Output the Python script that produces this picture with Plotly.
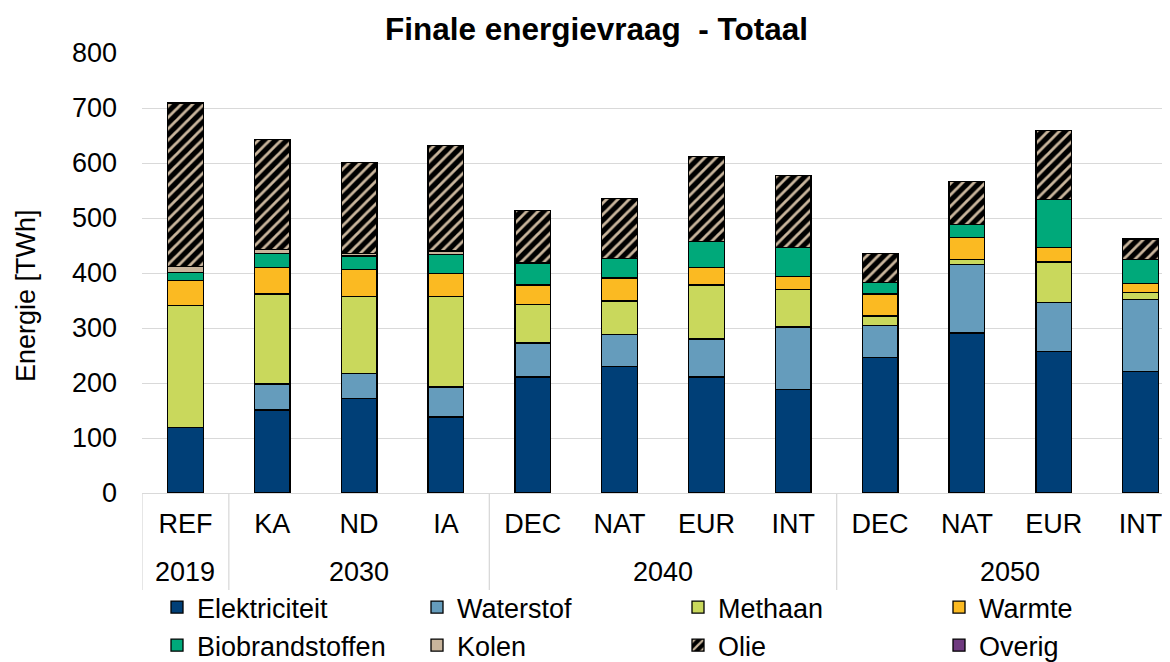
import plotly.graph_objects as go

years = ["2019", "2030", "2040", "2050"]
year_sizes = [1, 3, 4, 4]
scenarios = ["REF", "KA", "ND", "IA", "DEC", "NAT", "EUR", "INT", "DEC", "NAT", "EUR", "INT"]

elektriciteit = [119, 151, 172, 138, 211, 230, 211, 188, 246, 291, 257, 221]
waterstof = [0, 47, 45, 55, 62, 58, 69, 114, 58, 124, 90, 131]
methaan = [222, 164, 140, 164, 70, 61, 98, 68, 18, 10, 73, 13]
warmte = [45, 48, 50, 42, 35, 42, 32, 24, 40, 40, 27, 16]
biobrandstoffen = [15, 26, 24, 35, 40, 35, 47, 52, 21, 23, 87, 43]
kolen = [11, 7, 4, 6, 0, 0, 0, 0, 0, 0, 0, 0]
olie = [297, 200, 166, 192, 96, 109, 155, 131, 52, 79, 125, 38]
overig = [0, 0, 0, 0, 0, 0, 0, 0, 0, 0, 0, 0]

series = [
    ("Elektriciteit", elektriciteit, "#003f77", "legend"),
    ("Waterstof", waterstof, "#659cbc", "legend2"),
    ("Methaan", methaan, "#c9d85c", "legend3"),
    ("Warmte", warmte, "#fbba22", "legend4"),
    ("Biobrandstoffen", biobrandstoffen, "#00a97a", "legend"),
    ("Kolen", kolen, "#c9b59c", "legend2"),
    ("Olie", olie, "#000000", "legend3"),
    ("Overig", overig, "#6f3a7f", "legend4"),
]

FONT = "Liberation Sans, Arial, sans-serif"
# page body has an 8px margin; all pixel targets below are in figure coordinates
W, H = 1180, 662
L, R, T = 134, 4, 45
PLOT_BOTTOM = 485
B = H - PLOT_BOTTOM
PW, PH = W - L - R, PLOT_BOTTOM - T


def px_x(px):
    return (px - L) / PW


def px_y(py):
    return (PLOT_BOTTOM - py) / PH


xpos = list(range(len(scenarios)))

fig = go.Figure()
for name, vals, color, leg in series:
    marker = dict(color=color, line=dict(color="#000000", width=1.3))
    if name == "Olie":
        marker["pattern"] = dict(shape="/", bgcolor="#000000", fgcolor="#c9b59c",
                                 size=8, solidity=0.35, fillmode="replace")
    fig.add_trace(go.Bar(
        x=xpos, y=vals, name=name, marker=marker, width=0.41,
        legend=leg, legendgroup=name,
    ))

# group (year) labels and dividers under the category axis
start = 0
bounds = [-0.5]
for yr, n in zip(years, year_sizes):
    center = start + (n - 1) / 2
    fig.add_annotation(x=center, y=px_y(564), xref="x", yref="paper",
                       text=yr, showarrow=False, yanchor="middle",
                       font=dict(size=27, family=FONT, color="#000000"))
    start += n
    bounds.append(start - 0.5)
for bx in bounds:
    fig.add_shape(type="line", xref="x", yref="paper", x0=bx, x1=bx,
                  y0=0, y1=px_y(582),
                  line=dict(color="#d9d9d9", width=1.3))

# y-axis title
fig.add_annotation(x=px_x(18), y=px_y(288), xref="paper", yref="paper",
                   text="Energie [TWh]", textangle=-90, showarrow=False,
                   xanchor="center", yanchor="middle",
                   font=dict(size=27, family=FONT, color="#000000"))

leg_common = dict(orientation="v", yanchor="top", xanchor="left",
                  font=dict(size=27, family=FONT, color="#000000"),
                  tracegroupgap=0, itemclick=False, bgcolor="rgba(0,0,0,0)")
leg_y = px_y(575)
leg_x = [px_x(px) for px in (149, 409, 670, 931)]

fig.update_layout(
    barmode="stack",
    width=W, height=H,
    paper_bgcolor="white", plot_bgcolor="white",
    margin=dict(l=L, r=R, t=T, b=B, autoexpand=False),
    font=dict(family=FONT, size=26, color="#000000"),
    title=dict(text="<b>Finale energievraag  - Totaal</b>", xref="container", x=588.5 / W,
               xanchor="center", yref="container", y=1 - 20.5 / H, yanchor="middle",
               font=dict(size=31.5, family=FONT, color="#000000")),
    legend=dict(x=leg_x[0], y=leg_y, **leg_common),
    legend2=dict(x=leg_x[1], y=leg_y, **leg_common),
    legend3=dict(x=leg_x[2], y=leg_y, **leg_common),
    legend4=dict(x=leg_x[3], y=leg_y, **leg_common),
)

fig.update_yaxes(range=[0, 800], dtick=100, showgrid=True, gridcolor="#d9d9d9", gridwidth=1.3,
                 zeroline=False, showline=False, ticks="", ticklabelstandoff=24,
                 tickfont=dict(size=27, family=FONT))
fig.update_xaxes(range=[-0.5, len(scenarios) - 0.5], tickmode="array", tickvals=xpos,
                 ticktext=scenarios, showline=True, linecolor="#d9d9d9", linewidth=1.3,
                 showgrid=False, zeroline=False, ticks="", ticklabelstandoff=6,
                 tickfont=dict(size=27, family=FONT))

fig.write_html("out.html")
